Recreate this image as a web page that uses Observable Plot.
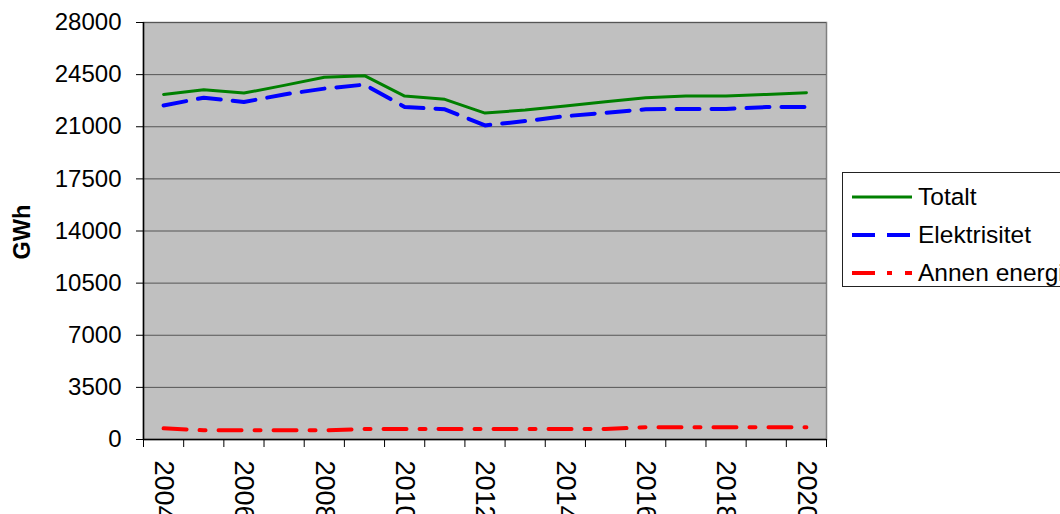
<!DOCTYPE html>
<html><head><meta charset="utf-8">
<script src="https://cdn.jsdelivr.net/npm/d3@7"></script>
<script src="https://cdn.jsdelivr.net/npm/@observablehq/plot@0.6"></script>
<style>
html,body{margin:0;padding:0;background:#fff}
body{width:1060px;height:514px;overflow:hidden;position:relative;font-family:"Liberation Sans",Arial,sans-serif;color:#000}
#chart{position:absolute;left:0;top:0}
#ylabel{position:absolute;left:22px;top:232px;transform:translate(-50%,-50%) rotate(-90deg);font-weight:bold;font-size:23.5px;white-space:nowrap}
#legend{position:absolute;left:842px;top:172px;width:260px;height:115px;border:1px solid #222;background:#fff;box-sizing:border-box}
.row{position:absolute;left:0;height:30px;display:flex;align-items:center;font-size:24.5px;white-space:nowrap}
.row svg{margin-left:9px;margin-right:6px}
</style>
</head><body>
<div id="chart"></div>
<div id="ylabel">GWh</div>
<div id="legend"></div>
<script>
const years = [2004,2005,2006,2007,2008,2009,2010,2011,2012,2013,2014,2015,2016,2017,2018,2019,2020];
const totalt = [23170,23490,23260,23780,24320,24430,23060,22840,21920,22120,22390,22680,22950,23060,23060,23170,23290];
const elektrisitet = [22430,22950,22660,23170,23560,23830,22330,22170,21090,21380,21710,21940,22170,22200,22200,22320,22320];
const annen = [750,620,620,620,620,700,700,700,700,700,700,700,830,830,830,830,830];
const yTicks = [0,3500,7000,10500,14000,17500,21000,24500,28000];
const labelYears = [2004,2006,2008,2010,2012,2014,2016,2018,2020];
const seriesNames = ["Totalt","Elektrisitet","Annen energi"];
const seriesColors = ["#008000","#0000ff","#ff0000"];
const seriesDash = [null,"23 12","23 13 6 13"];
const seriesWidth = [3,4,4];

const boundaries = years.map(y => y - 0.5).concat([years[years.length-1] + 0.5]);

const plot = Plot.plot({
  width: 1060, height: 514,
  marginLeft: 143, marginRight: 234, marginTop: 22, marginBottom: 75,
  style: {fontFamily: "Liberation Sans, Arial, sans-serif", fontSize: "24px", color: "#000", background: "transparent", overflow: "visible"},
  x: {type: "linear", domain: [years[0] - 0.5, years[years.length-1] + 0.5]},
  y: {domain: [0, 28000]},
  marks: [
    Plot.frame({fill: "#c0c0c0", stroke: "#808080", strokeWidth: 1.5}),
    Plot.gridY(yTicks.filter(d => d > 0), {stroke: "#555", strokeOpacity: 1, strokeWidth: 1}),
    Plot.line(years, {x: d => d, y: (d, i) => annen[i], stroke: seriesColors[2], strokeWidth: seriesWidth[2], strokeDasharray: seriesDash[2]}),
    Plot.line(years, {x: d => d, y: (d, i) => elektrisitet[i], stroke: seriesColors[1], strokeWidth: seriesWidth[1], strokeDasharray: seriesDash[1]}),
    Plot.line(years, {x: d => d, y: (d, i) => totalt[i], stroke: seriesColors[0], strokeWidth: seriesWidth[0]}),
    Plot.ruleY([0], {stroke: "#000", strokeWidth: 1.5}),
    Plot.ruleX([years[0] - 0.5], {stroke: "#000", strokeWidth: 1.5}),
    Plot.axisY({ticks: yTicks, tickSize: 7, tickPadding: 15, tickFormat: d => String(d), stroke: "#000", fontSize: 24, label: null}),
    Plot.axisX({ticks: boundaries, tickSize: 8, tickFormat: () => "", label: null, stroke: "#000"}),
    Plot.axisX({ticks: labelYears, tickSize: 0, tickPadding: 21, tickRotate: 90, tickFormat: d => String(d), fontSize: 27, label: null})
  ]
});
document.getElementById("chart").appendChild(plot);

const legend = document.getElementById("legend");
const rowTops = [9, 47, 85];
seriesNames.forEach((name, i) => {
  const row = document.createElement("div");
  row.className = "row";
  row.style.top = rowTops[i] + "px";
  const dash = seriesDash[i] ? (i === 2 ? 'stroke-dasharray="23 12 5 13"' : 'stroke-dasharray="23 12"') : "";
  row.innerHTML = `<svg width="60" height="10"><line x1="0" x2="60" y1="5" y2="5" stroke="${seriesColors[i]}" stroke-width="${seriesWidth[i]}" ${dash}/></svg><span>${name}</span>`;
  legend.appendChild(row);
});
</script>
</body></html>
